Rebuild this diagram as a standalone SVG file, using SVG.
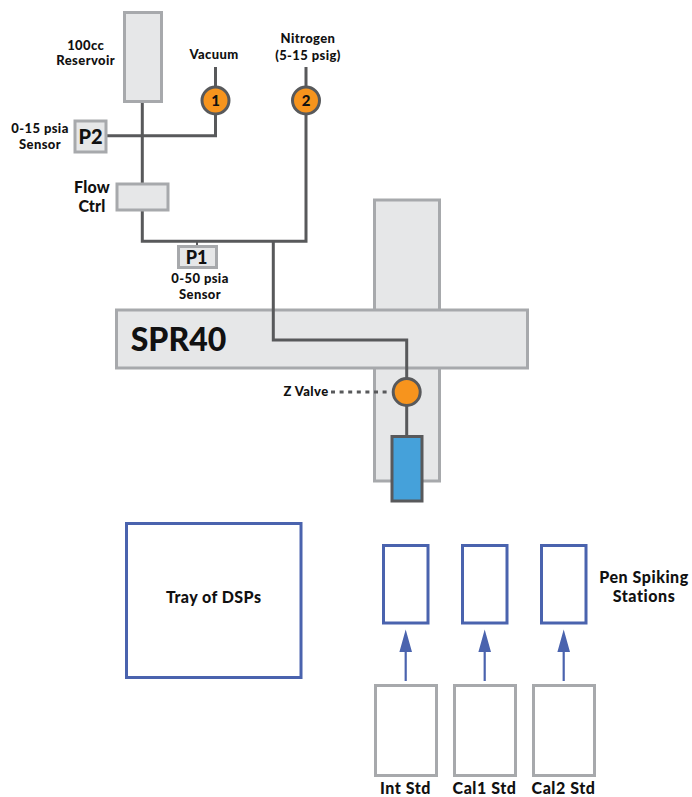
<svg xmlns="http://www.w3.org/2000/svg" width="692" height="797" viewBox="0 0 692 797">
<defs>
<style>
.g{fill:#e6e7e8;stroke:#a7a9ac;stroke-width:3}
.w{fill:#fff;stroke:#a7a9ac;stroke-width:3}
.b{fill:#fff;stroke:#4a63ae;stroke-width:3}
.c{fill:none;stroke:#58595b;stroke-width:3}
.v{fill:#f7941d;stroke:#58595b;stroke-width:3}
.a{fill:none;stroke:#4a63ae;stroke-width:2.2}
.h{fill:#4a63ae;stroke:none}
text{font-family:Lato,"Open Sans","Liberation Sans",sans-serif;font-weight:900;fill:#111;text-anchor:middle}
.s{font-size:13px;letter-spacing:.4px}
.m{font-size:16px;letter-spacing:.2px}
.l{font-size:16px;letter-spacing:.55px}
.n{font-size:15px}
</style>
</defs>
<rect width="692" height="797" fill="#fff"/>
<g id="spr40-body">
<rect class="g" x="374.500" y="200" width="65" height="281"/>
<rect class="g" x="116.500" y="310" width="411" height="58"/>
<text x="178.500" y="351" style="font-size:32px">SPR40</text>
</g>
<g id="connectors">
<path class="c" d="M142.300 101V183M142.300 210V241.300H306V67"/>
<path class="c" d="M106 135.700H215.500V67"/>
<path class="c" d="M273.300 241.300V340H406.700V436"/>
<path d="M197 241V247" fill="none" stroke="#58595b" stroke-width="2"/>
<path d="M331 392H391" fill="none" stroke="#58595b" stroke-width="3" stroke-dasharray="4 4.600"/>
<path class="a" d="M405.700 681V650M484.700 681V650M563.700 681V650"/>
<path class="h" d="M405.700 629.500L412 652H399.400ZM484.700 629.500L491 652H478.400ZM563.700 629.500L570 652H557.400Z"/>
</g>
<g id="reservoir"><rect class="g" x="124.500" y="12.500" width="37" height="89"/>
<text class="s"><tspan x="85.700" y="50">100cc</tspan><tspan x="85.700" y="65">Reservoir</tspan></text></g>
<g id="vacuum-valve"><text class="s" x="214" y="59">Vacuum</text><circle class="v" cx="215.500" cy="100.500" r="13.500"/><text class="n" x="215.500" y="106">1</text></g>
<g id="nitrogen-valve"><text class="s"><tspan x="308" y="43">Nitrogen</tspan><tspan x="308" y="60">(5-15 psig)</tspan></text><circle class="v" cx="306" cy="100.500" r="13.500"/><text class="n" x="306" y="106">2</text></g>
<g id="p2"><rect class="g" x="75" y="121" width="31" height="31"/><text x="90.500" y="144" style="font-size:20px">P2</text>
<text class="s"><tspan x="40" y="133">0-15 psia</tspan><tspan x="40" y="149">Sensor</tspan></text></g>
<g id="flow-ctrl"><rect class="g" x="117" y="184" width="51" height="26"/><text class="m"><tspan x="92" y="193">Flow</tspan><tspan x="92" y="212">Ctrl</tspan></text></g>
<g id="p1"><rect class="g" x="178.500" y="246.500" width="38" height="21"/><text x="196.500" y="264" style="font-size:18px">P1</text>
<text class="s"><tspan x="200" y="283">0-50 psia</tspan><tspan x="200" y="299">Sensor</tspan></text></g>
<g id="z-valve"><text class="s" x="306" y="396">Z Valve</text><circle class="v" cx="406.700" cy="392" r="13.500"/></g>
<g id="pen"><rect x="392" y="436.500" width="30" height="64.500" fill="#45a1da" stroke="#58595b" stroke-width="3"/></g>
<g id="tray"><rect class="b" x="126.500" y="523.500" width="174.500" height="154"/><text x="213.700" y="603" style="font-size:16px;letter-spacing:.45px">Tray of DSPs</text></g>
<g id="station-1"><rect class="b" x="383.500" y="545.500" width="44.500" height="77.500"/></g>
<g id="station-2"><rect class="b" x="462.500" y="545.500" width="44.500" height="77.500"/></g>
<g id="station-3"><rect class="b" x="541.500" y="545.500" width="44.500" height="77.500"/></g>
<text class="l"><tspan x="644" y="583">Pen Spiking</tspan><tspan x="644" y="602">Stations</tspan></text>
<g id="int-std"><rect class="w" x="375.500" y="685.500" width="61" height="90"/><text class="l" x="405.500" y="794">Int Std</text></g>
<g id="cal1-std"><rect class="w" x="454.500" y="685.500" width="61" height="90"/><text class="l" x="484.500" y="794">Cal1 Std</text></g>
<g id="cal2-std"><rect class="w" x="533.500" y="685.500" width="61" height="90"/><text class="l" x="563.500" y="794">Cal2 Std</text></g>
</svg>
